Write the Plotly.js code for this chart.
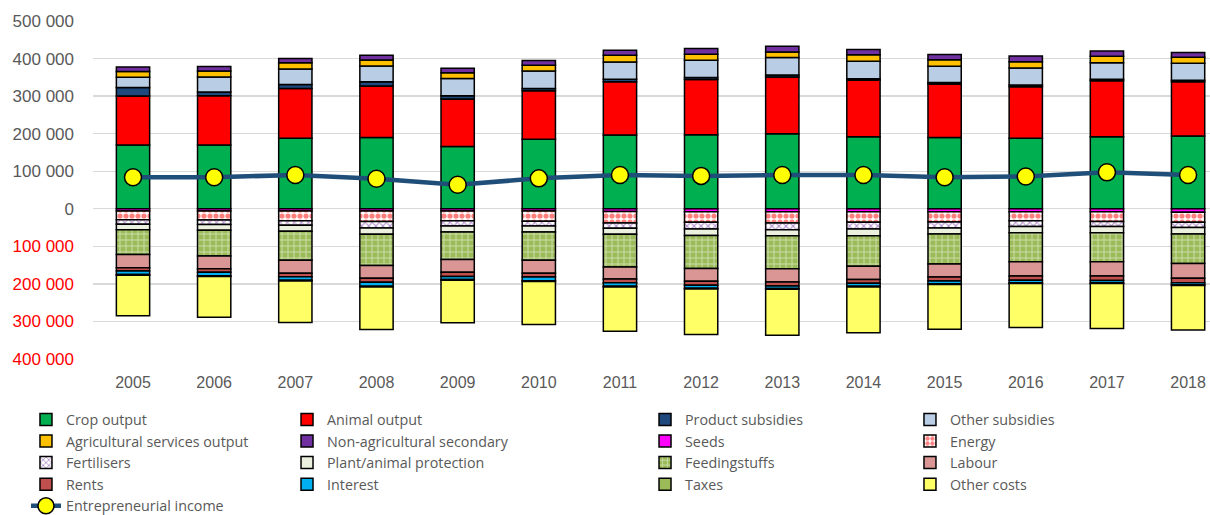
<!DOCTYPE html>
<html>
<head>
<meta charset="utf-8">
<script src="https://cdn.plot.ly/plotly-3.0.1.min.js"></script>
<style>html,body{margin:0;padding:0;background:#fff;}#chart{width:1210px;height:515px;}</style>
</head>
<body>
<div id="chart"></div>
<script>
const years = ['2005','2006','2007','2008','2009','2010','2011','2012','2013','2014','2015','2016','2017','2018'];

// Revenues (stacked upwards)
const cropOutput       = [170000,170000,188000,190000,165500,185000,196500,197000,200000,192000,190000,187600,192000,194000];
const animalOutput     = [130000,131000,132000,137000,126500,129000,141500,147000,151000,150000,142000,137000,148600,144000];
const productSubsidies = [23000,10000,11000,11000,9000,6000,7000,5500,5500,4500,4500,5000,4400,4400];
const otherSubsidies   = [27500,40000,41000,42000,46000,47000,46000,46000,46000,46000,43000,45000,44000,45000];
const agriServices     = [15000,16000,16500,16000,15000,15000,18000,16000,15000,17600,17600,17000,17000,16000];
const nonAgSecondary   = [12000,12000,11500,13000,12000,13000,13000,15000,15000,14000,14000,15000,14000,13000];

// Costs (magnitudes, drawn downwards)
const seeds            = [6000,6000,6000,6000,6000,6000,7000,8000,8000,8000,8000,8000,8000,9000];
const energy           = [23000,24000,26000,28000,26000,27000,31000,28000,30000,28000,27000,24000,26000,27000];
const fertilisers      = [12000,12000,12000,17000,14000,13000,14000,18000,18000,18000,16000,15000,13000,14000];
const plantProtection  = [15000,15000,16000,17000,16000,16000,16000,17000,16000,18000,16000,17000,17000,17000];
const feedingstuffs    = [66000,69000,77000,83000,73000,75000,87000,88000,88000,81000,80000,77000,77000,79000];
const labour           = [35000,34000,35000,34000,34000,35000,32000,34000,35000,35000,34500,38000,38000,39000];
const rents            = [9000,9000,9000,10600,11000,9400,10000,10600,10600,10000,11000,11000,12000,12000];
const interest         = [9000,9000,9000,10600,8500,10000,9000,8000,7000,8000,7000,7000,6000,5600];
const taxes            = [2000,2000,2000,2000,2000,2000,2000,2000,2000,2000,2000,2000,2000,2000];
const otherCosts       = [108000,109000,111000,113000,113000,115000,118000,121000,122000,122000,119000,117000,120000,118000];

// Line
const entrepreneurialIncome = [84000,84000,90000,80000,64000,81000,90000,87600,90000,90000,84000,86000,97000,90000];

// Y-axis ticks
const yTickVals   = [500000,400000,300000,200000,100000,0,-100000,-200000,-300000,-400000];
const yTickLabels = ['500 000','400 000','300 000','200 000','100 000','0','100 000','200 000','300 000','400 000'];

const outline = {color:'#000000', width:1.5};
const legFont = {family:'"Open Sans", "Liberation Sans", sans-serif', size:14.3, color:'#595959'};

function bar(name, vals, color, legend, negative, pattern){
  const m = {color: color, line: outline};
  if (pattern) m.pattern = pattern;
  return {
    type:'bar', name:name, x:years,
    y: negative ? vals.map(v => -v) : vals,
    marker:m, legend:legend, hoverinfo:'name+y'
  };
}

const traces = [
  bar('Crop output', cropOutput, '#00B050', 'legend'),
  bar('Animal output', animalOutput, '#FF0000', 'legend2'),
  bar('Product subsidies', productSubsidies, '#1F497D', 'legend3'),
  bar('Other subsidies', otherSubsidies, '#B9CDE5', 'legend4'),
  bar('Agricultural services output', agriServices, '#FFC000', 'legend'),
  bar('Non-agricultural secondary', nonAgSecondary, '#7030A0', 'legend2'),
  bar('Seeds', seeds, '#FF00FF', 'legend3', true),
  bar('Energy', energy, '#FFFFFF', 'legend4', true, {shape:'.', bgcolor:'#FFFFFF', fgcolor:'#FF0000', size:6, solidity:0.6, fillmode:'overlay'}),
  bar('Fertilisers', fertilisers, '#FFFFFF', 'legend', true, {shape:'x', bgcolor:'#FFFFFF', fgcolor:'#7030A0', size:5, solidity:0.4, fillmode:'overlay'}),
  bar('Plant/animal protection', plantProtection, '#EBF1DE', 'legend2', true),
  bar('Feedingstuffs', feedingstuffs, '#9BBB59', 'legend3', true, {shape:'+', bgcolor:'#9BBB59', fgcolor:'#FFFFFF', size:6, solidity:0.3, fillmode:'overlay'}),
  bar('Labour', labour, '#D99694', 'legend4', true),
  bar('Rents', rents, '#C0504D', 'legend', true),
  bar('Interest', interest, '#00B0F0', 'legend2', true),
  bar('Taxes', taxes, '#9BBB59', 'legend3', true),
  bar('Other costs', otherCosts, '#FFFF66', 'legend4', true),
  {
    type:'scatter', mode:'lines+markers', name:'Entrepreneurial income',
    x:years, y:entrepreneurialIncome, legend:'legend',
    line:{color:'#1F4E79', width:4.5},
    marker:{color:'#FFFF00', size:17, line:{color:'#000000', width:1.5}}
  }
];

function leg(x){
  return {x:x, y:-0.132, xanchor:'left', yanchor:'top', orientation:'v',
          font:legFont, bgcolor:'rgba(0,0,0,0)', borderwidth:0, traceorder:'normal', itemwidth:30};
}

const layout = {
  width:1210, height:515,
  margin:{l:93, r:0, t:21, b:156, pad:0, autoexpand:false},
  paper_bgcolor:'#FFFFFF', plot_bgcolor:'#FFFFFF',
  barmode:'relative', bargap:0.59,
  showlegend:true,
  font:{family:'"Liberation Sans", Arial, sans-serif', color:'#595959'},
  xaxis:{type:'category', range:[-0.493, 13.27], showgrid:false, zeroline:false, showline:false,
         ticks:'', tickfont:{size:16, color:'#595959'}, ticklabelstandoff:12, fixedrange:true},
  yaxis:{range:[-400000, 500000], tickmode:'array',
         tickvals:yTickVals,
         ticktext:yTickLabels.map((t,i) => yTickVals[i] < 0 ? '<span style="color:#FF0000">'+t+'</span>' : t),
         showgrid:true, gridcolor:'#D9D9D9', gridwidth:1.3, zeroline:false, showline:false,
         ticks:'', tickfont:{size:17, color:'#595959'}, ticklabelstandoff:18, fixedrange:true},
  legend: leg(-0.060),
  legend2: leg(0.1737),
  legend3: leg(0.4942),
  legend4: leg(0.7314)
};

Plotly.newPlot('chart', traces, layout, {staticPlot:true, displayModeBar:false});
</script>
</body>
</html>
